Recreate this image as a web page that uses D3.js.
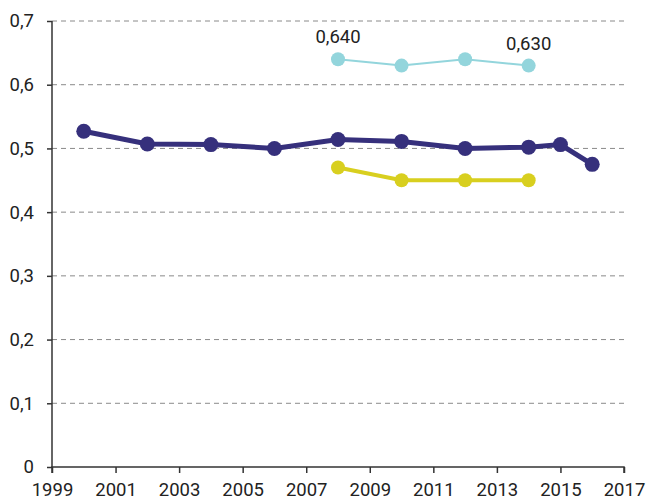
<!DOCTYPE html>
<html>
<head>
<meta charset="utf-8">
<script src="https://cdn.jsdelivr.net/npm/d3@7"></script>
<style>
  body { margin: 0; background: #fff; }
  svg text { font-family: Roboto, sans-serif; fill: #222; }
</style>
</head>
<body>
<div id="chart"></div>
<script>
// data
var yearsMain = [2000, 2002, 2004, 2006, 2008, 2010, 2012, 2014, 2015, 2016];
var valuesMain = [0.527, 0.507, 0.506, 0.500, 0.514, 0.511, 0.500, 0.502, 0.506, 0.475];
var yearsSub = [2008, 2010, 2012, 2014];
var valuesTop = [0.640, 0.630, 0.640, 0.630];
var valuesLow = [0.470, 0.450, 0.450, 0.450];
var xTicks = [1999, 2001, 2003, 2005, 2007, 2009, 2011, 2013, 2015, 2017];
var yTicks = [0, 0.1, 0.2, 0.3, 0.4, 0.5, 0.6, 0.7];
var topLabels = [{year: 2008, value: 0.640, text: "0,640"}, {year: 2014, value: 0.630, text: "0,630"}];

var width = 646, height = 502;
var svg = d3.select("#chart").append("svg").attr("width", width).attr("height", height);

var x = d3.scaleLinear().domain([1999, 2017]).range([52, 624]);
var y = d3.scaleLinear().domain([0, 0.7]).range([467, 21]);

var fmt = function(d) { return d === 0 ? "0" : d3.format(".1f")(d).replace(".", ","); };

// grid
svg.append("g").selectAll("line").data(yTicks.filter(function(d){ return d > 0; })).enter()
    .append("line")
    .attr("x1", x(1999)).attr("x2", x(2017))
    .attr("y1", function(d){ return y(d); }).attr("y2", function(d){ return y(d); })
    .attr("stroke", "#8a8a8a").attr("stroke-width", 1).attr("stroke-dasharray", "5,4");

// axes
var yAxis = svg.append("g").attr("transform", "translate(" + x(1999) + ",0)")
    .call(d3.axisLeft(y).tickValues(yTicks).tickFormat(fmt).tickSize(5).tickPadding(13));
var xAxis = svg.append("g").attr("transform", "translate(0," + y(0) + ")")
    .call(d3.axisBottom(x).tickValues(xTicks).tickFormat(d3.format("d")).tickSize(6).tickPadding(10));
[xAxis, yAxis].forEach(function(a) {
    a.select(".domain").attr("stroke", "#333").attr("stroke-width", 1.5);
    a.selectAll(".tick line").attr("stroke", "#333").attr("stroke-width", 1.5);
    a.selectAll("text").attr("font-size", 18.5).attr("fill", "#222")
        .style("font-family", "Roboto, sans-serif");
});
xAxis.select(".domain").attr("d", "M" + x(1999) + ",6V0H" + x(2017) + "V6");
yAxis.select(".domain").attr("d", "M0," + y(0.7) + "H0V" + y(0));

function drawSeries(years, values, color, lw, r) {
    var pts = years.map(function(d, i){ return {year: d, value: values[i]}; });
    var line = d3.line().x(function(d){ return x(d.year); }).y(function(d){ return y(d.value); });
    var g = svg.append("g");
    g.append("path").datum(pts).attr("d", line)
        .attr("fill", "none").attr("stroke", color).attr("stroke-width", lw);
    g.selectAll("circle").data(pts).enter().append("circle")
        .attr("cx", function(d){ return x(d.year); })
        .attr("cy", function(d){ return y(d.value); })
        .attr("r", r).attr("fill", color);
}

drawSeries(yearsSub, valuesTop, "#93d5dc", 2, 7);
drawSeries(yearsMain, valuesMain, "#36307c", 5, 7.5);
drawSeries(yearsSub, valuesLow, "#d8cf1f", 4, 7);

svg.append("g").selectAll("text").data(topLabels).enter().append("text")
    .attr("x", function(d){ return x(d.year); })
    .attr("y", function(d){ return y(d.value) - 16; })
    .attr("text-anchor", "middle").attr("font-size", 18.5)
    .text(function(d){ return d.text; });
</script>
</body>
</html>
